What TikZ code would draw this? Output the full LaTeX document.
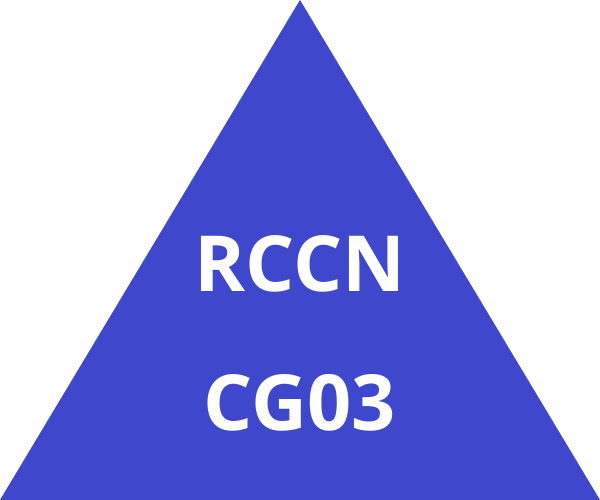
\documentclass[tikz,border=0pt]{standalone}
\usepackage{fontspec}
\setmainfont{Open Sans}
\definecolor{indigo}{RGB}{63,72,204}

\begin{document}
\begin{tikzpicture}[x=0.01cm, y=0.01cm,
    label/.style={text=white, font=\fontsize{22}{26}\selectfont\bfseries, inner sep=0pt, anchor=base}]
    \useasboundingbox (0,0) rectangle (600,500);
    \coordinate (L) at (0,0);
    \coordinate (R) at (600,0);
    \coordinate (T) at (300,500);
    \fill[indigo] (L) -- (R) -- (T) -- cycle;
    \node[label] (top) at (300,208) {RCCN};
    \node[label] (bottom) at (300,69) {CG03};
\end{tikzpicture}
\end{document}
